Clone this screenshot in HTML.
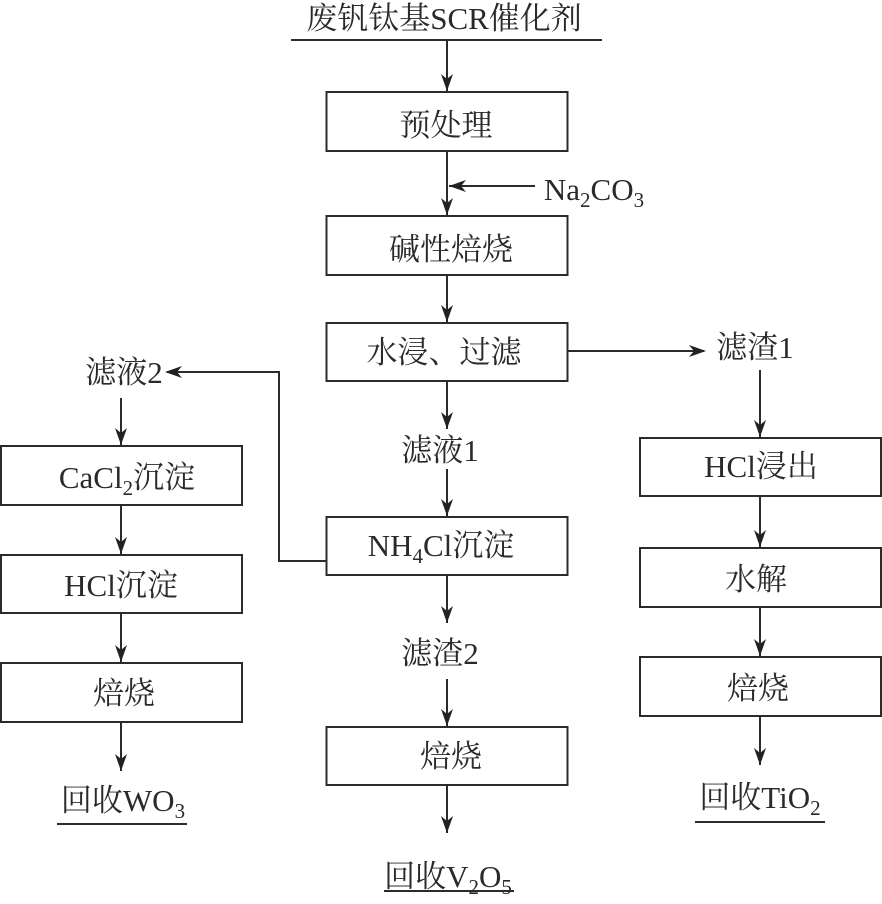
<!DOCTYPE html>
<html lang="zh">
<head>
<meta charset="utf-8">
<style>
html,body{margin:0;padding:0;background:#fff}
svg{display:block}
text{font-family:"Liberation Serif","Noto Serif CJK SC",serif;font-size:31px;fill:#2a2a2a;text-anchor:middle}
.sub{font-size:21px}
rect{fill:#fff;stroke:#2b2b2b;stroke-width:2}
line,polyline{stroke:#2b2b2b;stroke-width:2;fill:none}
path{fill:#222;stroke:none}
</style>
</head>
<body>
<svg width="882" height="904" viewBox="0 0 882 904" xmlns="http://www.w3.org/2000/svg">
<defs>
<path id="d" d="M0 0L-6-17L0-12L6-17Z"/>
<path id="l" d="M0 0L17-6L12 0L17 6Z"/>
<path id="r" d="M0 0L-17-6L-12 0L-17 6Z"/>
</defs>

<rect x="326.500" y="92" width="241" height="59"/>
<rect x="326.500" y="216" width="241" height="59"/>
<rect x="326.500" y="323" width="241" height="58"/>
<rect x="326.500" y="517" width="241" height="58"/>
<rect x="326.500" y="727" width="241" height="58"/>
<rect x="1" y="446" width="241" height="59"/>
<rect x="1" y="555" width="241" height="58"/>
<rect x="1" y="663" width="241" height="59"/>
<rect x="640" y="438" width="241" height="58"/>
<rect x="640" y="548" width="241" height="59"/>
<rect x="640" y="657" width="241" height="59"/>

<line x1="291" y1="40" x2="602" y2="40"/>
<line x1="57" y1="824" x2="187" y2="824"/>
<line x1="695" y1="822" x2="825" y2="822"/>
<line x1="384" y1="891" x2="514" y2="891"/>

<line x1="447" y1="41" x2="447" y2="91"/><use href="#d" x="447" y="91"/>
<line x1="447" y1="152" x2="447" y2="215"/><use href="#d" x="447" y="215"/>
<line x1="449" y1="186" x2="535" y2="186"/><use href="#l" x="449" y="186"/>
<line x1="447" y1="275" x2="447" y2="322"/><use href="#d" x="447" y="322"/>
<line x1="447" y1="382" x2="447" y2="429"/><use href="#d" x="447" y="429"/>
<line x1="447" y1="469" x2="447" y2="516"/><use href="#d" x="447" y="516"/>
<line x1="447" y1="576" x2="447" y2="623"/><use href="#d" x="447" y="623"/>
<line x1="447" y1="679" x2="447" y2="726"/><use href="#d" x="447" y="726"/>
<line x1="447" y1="786" x2="447" y2="833"/><use href="#d" x="447" y="833"/>
<line x1="568" y1="351" x2="704" y2="351"/><use href="#r" x="706" y="351"/>
<polyline points="326,561 279,561 279,372 167,372"/><use href="#l" x="165" y="372"/>
<line x1="121" y1="398" x2="121" y2="445"/><use href="#d" x="121" y="445"/>
<line x1="121" y1="506" x2="121" y2="554"/><use href="#d" x="121" y="554"/>
<line x1="121" y1="614" x2="121" y2="662"/><use href="#d" x="121" y="662"/>
<line x1="121" y1="723" x2="121" y2="771"/><use href="#d" x="121" y="771"/>
<line x1="760" y1="370" x2="760" y2="437"/><use href="#d" x="760" y="437"/>
<line x1="760" y1="497" x2="760" y2="547"/><use href="#d" x="760" y="547"/>
<line x1="760" y1="608" x2="760" y2="656"/><use href="#d" x="760" y="656"/>
<line x1="760" y1="717" x2="760" y2="765"/><use href="#d" x="760" y="765"/>

<text x="444" y="29">废钒钛基SCR催化剂</text>
<text x="446" y="136">预处理</text>
<text x="594" y="200">Na<tspan class="sub" dy="7">2</tspan><tspan dy="-7">CO</tspan><tspan class="sub" dy="7">3</tspan></text>
<text x="451" y="260">碱性焙烧</text>
<text x="444" y="363">水浸、过滤</text>
<text x="440" y="461">滤液1</text>
<text x="441" y="556">NH<tspan class="sub" dy="7">4</tspan><tspan dy="-7">Cl沉淀</tspan></text>
<text x="440" y="664">滤渣2</text>
<text x="451" y="767">焙烧</text>
<text x="448" y="887">回收V<tspan class="sub" dy="7">2</tspan><tspan dy="-7">O</tspan><tspan class="sub" dy="7">5</tspan></text>
<text x="124" y="383">滤液2</text>
<text x="127" y="488">CaCl<tspan class="sub" dy="7">2</tspan><tspan dy="-7">沉淀</tspan></text>
<text x="121" y="596">HCl沉淀</text>
<text x="124" y="704">焙烧</text>
<text x="123" y="811">回收WO<tspan class="sub" dy="7">3</tspan></text>
<text x="755" y="358">滤渣1</text>
<text x="761" y="477">HCl浸出</text>
<text x="756" y="590">水解</text>
<text x="758" y="699">焙烧</text>
<text x="760" y="808">回收TiO<tspan class="sub" dy="7">2</tspan></text>
</svg>
</body>
</html>
